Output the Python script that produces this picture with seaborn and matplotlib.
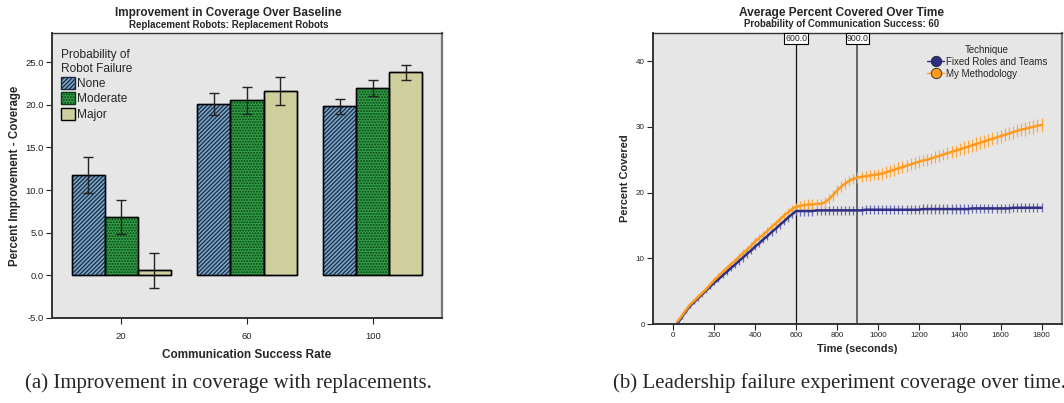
import numpy as np
import pandas as pd
import matplotlib
matplotlib.use("Agg")
import matplotlib.pyplot as plt
from matplotlib.lines import Line2D
import seaborn as sns

# ---- panel (a): improvement in coverage over baseline ----
rates = ['20', '60', '100']
failure = ['None', 'Moderate', 'Major']
imp_none = [11.8, 20.1, 19.8]
imp_moderate = [6.8, 20.5, 22.0]
imp_major = [0.6, 21.6, 23.8]
err_none = [2.1, 1.25, 0.9]
err_moderate = [2.0, 1.55, 0.95]
err_major = [2.05, 1.6, 0.9]

# ---- panel (b): average percent covered over time ----
time_s = list(range(20, 1801, 20))
fixed_roles = [
    0.1, 1.0, 1.9, 2.7, 3.3, 3.9, 4.5, 5.1, 5.7, 6.3,
    6.8, 7.4, 7.9, 8.5, 9.0, 9.6, 10.1, 10.7, 11.2, 11.8,
    12.3, 12.9, 13.4, 14.0, 14.5, 15.1, 15.6, 16.2, 16.7, 17.2,
    17.2, 17.2, 17.2, 17.2, 17.3, 17.3, 17.3, 17.3, 17.3, 17.3,
    17.3, 17.3, 17.3, 17.3, 17.3, 17.3, 17.4, 17.4, 17.4, 17.4,
    17.4, 17.4, 17.4, 17.4, 17.4, 17.4, 17.4, 17.4, 17.4, 17.4,
    17.5, 17.5, 17.5, 17.5, 17.5, 17.5, 17.5, 17.5, 17.5, 17.5,
    17.5, 17.5, 17.6, 17.6, 17.6, 17.6, 17.6, 17.6, 17.6, 17.6,
    17.6, 17.6, 17.7, 17.7, 17.7, 17.7, 17.7, 17.7, 17.7, 17.7,
]
my_method = [
    0.4, 1.2, 2.1, 2.9, 3.5, 4.1, 4.7, 5.3, 6.0, 6.7,
    7.3, 7.9, 8.5, 9.1, 9.6, 10.2, 10.8, 11.3, 11.9, 12.6,
    13.1, 13.6, 14.2, 14.8, 15.3, 15.9, 16.5, 17.0, 17.5, 17.9,
    18.0, 18.1, 18.2, 18.2, 18.3, 18.3, 18.5, 19.0, 19.6, 20.3,
    20.9, 21.4, 21.8, 22.1, 22.3, 22.4, 22.5, 22.6, 22.7, 22.8,
    22.9, 23.1, 23.3, 23.5, 23.7, 23.9, 24.1, 24.3, 24.5, 24.7,
    24.9, 25.0, 25.2, 25.4, 25.6, 25.8, 26.0, 26.2, 26.4, 26.6,
    26.8, 27.0, 27.2, 27.4, 27.6, 27.8, 28.0, 28.2, 28.4, 28.6,
    28.8, 29.0, 29.2, 29.4, 29.6, 29.7, 29.9, 30.0, 30.2, 30.3,
]
fixed_err = [0.2] * 5 + [0.4] * 10 + [0.6] * 15 + [0.7] * 60
my_err = [0.2] * 5 + [0.4] * 10 + [0.6] * 15 + [0.8] * 20 + [0.9] * 20 + [1.0] * 20
event_times = [600, 900]

sns.set_theme(style="white")
plt.rcParams['font.family'] = ['Liberation Sans', 'DejaVu Sans']
plt.rcParams['hatch.linewidth'] = 0.9

fig = plt.figure(figsize=(10.64, 4.03), dpi=100)
bg = '#e6e6e6'

# ---------------- panel (a) ----------------
ax1 = fig.add_axes([0.0489, 0.211, 0.3665, 0.707])
df_a = pd.DataFrame({
    'rate': rates * 3,
    'failure': sum([[f] * 3 for f in failure], []),
    'imp': imp_none + imp_moderate + imp_major,
    'err': err_none + err_moderate + err_major,
})
bar_cols = ['#78a6c6', '#2f9e45', '#cfcf9e']
sns.barplot(data=df_a, x='rate', y='imp', hue='failure', hue_order=failure,
            order=rates, palette=bar_cols, errorbar=None, width=0.79,
            edgecolor='black', linewidth=1.0, saturation=1, ax=ax1, legend=False)
hatches = ['////////', '......', '']
for cont, h, f in zip(ax1.containers, hatches, failure):
    sub = df_a[df_a.failure == f].set_index('rate').loc[rates]
    xs = [p.get_x() + p.get_width() / 2 for p in cont.patches]
    for p in cont.patches:
        p.set_hatch(h)
        if h.startswith('/'):
            p.set_edgecolor('#1c2a44')
        elif h.startswith('.'):
            p.set_edgecolor('#0d3a16')
    ax1.errorbar(xs, sub['imp'], yerr=sub['err'], fmt='none', ecolor='#222222',
                 elinewidth=1.0, capsize=3.5, capthick=1.0)
    # black outline over hatch edge
    for p in cont.patches:
        ax1.add_patch(plt.Rectangle((p.get_x(), p.get_y()), p.get_width(), p.get_height(),
                                    fill=False, edgecolor='black', linewidth=1.0))
ax1.set_facecolor(bg)
ax1.set_xlim(-0.55, 2.55)
ax1.set_ylim(-5, 28.4)
ax1.set_yticks([-5, 0, 5, 10, 15, 20, 25])
ax1.set_yticklabels([f'{v:.1f}' for v in [-5, 0, 5, 10, 15, 20, 25]])
ax1.tick_params(axis='both', labelsize=6.8, length=4, width=0.8, direction='out',
                colors='#222222', left=True, bottom=True, pad=2)
ax1.tick_params(axis='x', pad=6)
ax1.set_xlabel('Communication Success Rate', fontsize=8.5, fontweight='bold', labelpad=6)
ax1.set_ylabel('Percent Improvement - Coverage', fontsize=8.3, fontweight='bold', labelpad=3)
for s in ax1.spines.values():
    s.set_color('#333333')
    s.set_linewidth(1.0)
ax1.spines['left'].set_linewidth(1.4)
ax1.spines['bottom'].set_linewidth(1.4)
ax1.spines['right'].set_color('#777777')
ax1.spines['right'].set_linewidth(1.6)
fig.text(0.215, 0.968, 'Improvement in Coverage Over Baseline', ha='center', va='center',
         fontsize=8.5, fontweight='bold')
fig.text(0.215, 0.939, 'Replacement Robots: Replacement Robots', ha='center', va='center',
         fontsize=7.0, fontweight='bold')
leg1 = ax1.legend(ax1.containers, failure, title='Probability of\nRobot Failure',
                  loc='upper left', bbox_to_anchor=(0.005, 0.97), frameon=False,
                  fontsize=8.6, title_fontsize=8.6, alignment='left',
                  handlelength=1.15, handleheight=1.15, handletextpad=0.2,
                  labelspacing=0.2, borderaxespad=0.2)

# ---------------- panel (b) ----------------
ax2 = fig.add_axes([0.6137, 0.196, 0.3844, 0.722])
tech = ['Fixed Roles and Teams', 'My Methodology']
df_b = pd.DataFrame({
    'time': time_s * 2,
    'cov': fixed_roles + my_method,
    'err': fixed_err + my_err,
    'Technique': [tech[0]] * len(time_s) + [tech[1]] * len(time_s),
})
line_cols = ['#2e2e82', '#ff9a1c']
err_cols = ['#6a6ab0', '#ffa838']
for t, ec in zip(tech, err_cols):
    sub = df_b[df_b.Technique == t]
    ax2.errorbar(sub['time'], sub['cov'], yerr=sub['err'], fmt='none', ecolor=ec,
                 elinewidth=0.9, capsize=0, zorder=2)
sns.lineplot(data=df_b, x='time', y='cov', hue='Technique', palette=line_cols,
             linewidth=1.8, ax=ax2, legend=False, zorder=3)
for et, c, lw in zip(event_times, ['#111111', '#666666'], [0.9, 1.4]):
    ax2.axvline(et, color=c, linewidth=lw, zorder=1)
    ax2.text(et, 43.5, f'{et:.1f}', ha='center', va='center', fontsize=6.3, zorder=5,
             bbox=dict(boxstyle='square,pad=0.1', facecolor='white', edgecolor='black',
                       linewidth=0.8))
ax2.set_facecolor(bg)
ax2.set_xlim(-100, 1900)
ax2.set_ylim(0, 44.3)
ax2.set_xticks(range(0, 1801, 200))
ax2.set_yticks([0, 10, 20, 30, 40])
ax2.tick_params(axis='both', labelsize=5.8, length=4, width=0.8, direction='out',
                colors='#222222', left=True, bottom=True, pad=2)
ax2.set_xlabel('Time (seconds)', fontsize=7.9, fontweight='bold', labelpad=3)
ax2.set_ylabel('Percent Covered', fontsize=7.9, fontweight='bold', labelpad=4)
for s in ax2.spines.values():
    s.set_color('#333333')
    s.set_linewidth(1.0)
ax2.spines['left'].set_linewidth(1.4)
ax2.spines['bottom'].set_linewidth(1.4)
ax2.spines['right'].set_color('#777777')
ax2.spines['right'].set_linewidth(1.6)
fig.text(0.791, 0.968, 'Average Percent Covered Over Time', ha='center', va='center',
         fontsize=8.6, fontweight='bold')
fig.text(0.791, 0.940, 'Probability of Communication Success: 60', ha='center', va='center',
         fontsize=6.9, fontweight='bold')
handles = [Line2D([0], [0], color=c, linewidth=1.0, marker='o', markersize=7.5,
                  markerfacecolor=c, markeredgecolor='#222222', markeredgewidth=0.6)
           for c in line_cols]
ax2.legend(handles, tech, title='Technique', loc='upper right', bbox_to_anchor=(0.985, 0.99),
           frameon=False, fontsize=7.0, title_fontsize=7.0, handlelength=1.8,
           handletextpad=0.15, labelspacing=0.2)

# ---------------- captions ----------------
fig.text(0.215, 0.05, '(a) Improvement in coverage with replacements.', ha='center',
         va='center', fontsize=15, family=['Liberation Serif', 'DejaVu Serif'])
fig.text(0.576, 0.05, '(b) Leadership failure experiment coverage over time.', ha='left',
         va='center', fontsize=15, family=['Liberation Serif', 'DejaVu Serif'])

fig.savefig('out.png', dpi=100, facecolor='white')
